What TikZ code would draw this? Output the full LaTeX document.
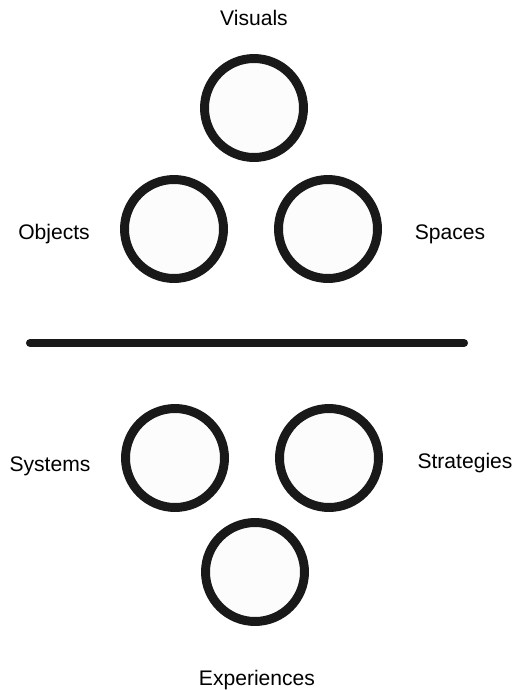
\documentclass[tikz,border=0pt]{standalone}
\usepackage{fontspec}
\setmainfont{Liberation Sans}
\usetikzlibrary{positioning}
\tikzset{
	ring/.style={circle, draw=black!90, fill=black!1, line width=5.1pt, minimum size=1.98cm, inner sep=0pt}
}
\tikzset{
	ringlabel/.style={font=\fontsize{12}{14}\selectfont, inner sep=0pt}
}

\begin{document}
\begin{tikzpicture}[x=0.02cm,y=-0.02cm]
      \useasboundingbox (0,0) rectangle (519,690);
      % upper group
      \node[ring] (visuals) at (254,108) {};
      \node[ring] (objects) at (174,229) {};
      \node[ring] (spaces) at (328,229) {};
      \node[ringlabel] (visualslbl) at (254,18) {Visuals};
      \node[ringlabel] (objectslbl) at (54,234) {Objects};
      \node[ringlabel] (spaceslbl) at (450,234) {Spaces};
      % divider
      \coordinate (divl) at (30,343);
      \coordinate (divr) at (464,343);
      \draw[line width=4.6pt, line cap=round, black!90] (divl) -- (divr);
      % lower group
      \node[ring] (systems) at (175,458) {};
      \node[ring] (strategies) at (329,458) {};
      \node[ring] (experiences) at (255,572) {};
      \node[ringlabel] (systemslbl) at (50,466) {Systems};
      \node[ringlabel] (strategieslbl) at (465,463) {Strategies};
      \node[ringlabel] (experienceslbl) at (257,680) {Experiences};
    \end{tikzpicture}
\end{document}
